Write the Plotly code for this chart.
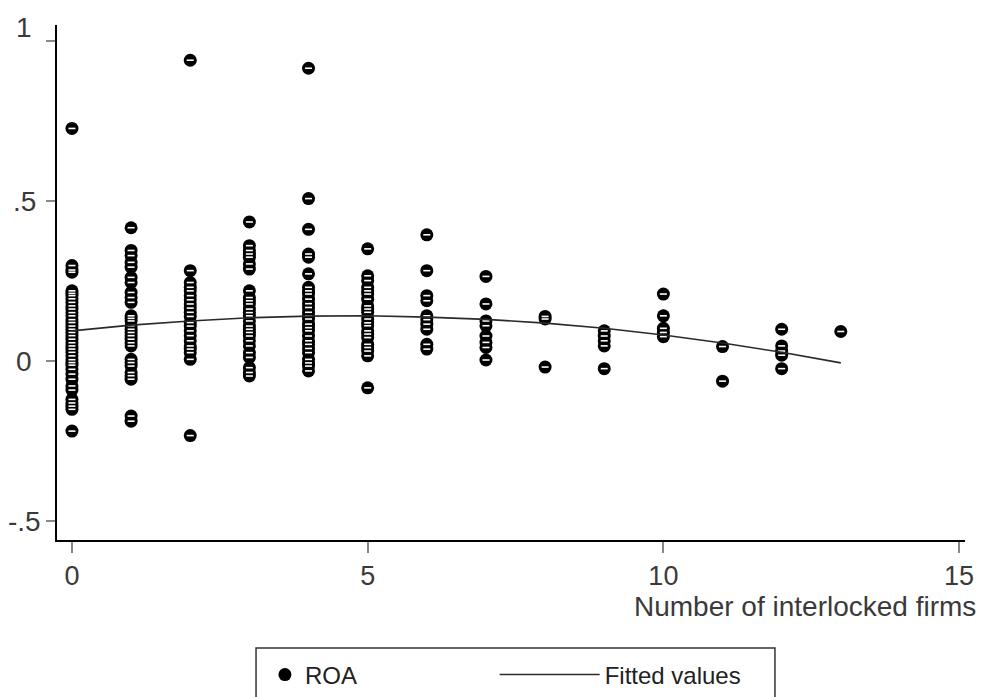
import plotly.graph_objects as go

roa_0 = [0.727, 0.299, 0.285, 0.278, 0.220, 0.212, 0.205, 0.195, 0.184, 0.173, 0.163, 0.152, 0.142,
         0.130, 0.121, 0.110, 0.100, 0.090, 0.080, 0.069, 0.058, 0.048, 0.038, 0.028, 0.017, 0.005,
         -0.004, -0.012, -0.025, -0.040, -0.056, -0.077, -0.090, -0.119, -0.130, -0.140, -0.150, -0.218]
roa_1 = [0.417, 0.346, 0.330, 0.309, 0.294, 0.262, 0.246, 0.215, 0.199, 0.184, 0.142, 0.134, 0.126,
         0.111, 0.100, 0.090, 0.080, 0.069, 0.058, 0.048, 0.006, -0.004, -0.015, -0.035, -0.045,
         -0.056, -0.171, -0.187]
roa_2 = [0.940, 0.283, 0.246, 0.231, 0.220, 0.205, 0.192, 0.179, 0.166, 0.153, 0.140, 0.121, 0.110,
         0.095, 0.080, 0.064, 0.048, 0.038, 0.027, 0.006, -0.232]
roa_3 = [0.435, 0.361, 0.346, 0.335, 0.325, 0.304, 0.288, 0.220, 0.199, 0.189, 0.179, 0.163, 0.152,
         0.142, 0.126, 0.110, 0.100, 0.090, 0.079, 0.064, 0.048, 0.027, 0.012, -0.020, -0.035, -0.046]
roa_4 = [0.915, 0.508, 0.412, 0.335, 0.325, 0.273, 0.231, 0.220, 0.210, 0.194, 0.180, 0.168, 0.153,
         0.142, 0.132, 0.116, 0.105, 0.095, 0.079, 0.064, 0.053, 0.040, 0.027, 0.006, -0.005,
         -0.015, -0.030]
roa_5 = [0.351, 0.267, 0.252, 0.231, 0.220, 0.210, 0.194, 0.173, 0.163, 0.153, 0.132, 0.120, 0.111,
         0.095, 0.085, 0.074, 0.053, 0.043, 0.032, 0.017, -0.083]
roa_6 = [0.395, 0.283, 0.205, 0.189, 0.142, 0.130, 0.116, 0.100, 0.053, 0.038]
roa_7 = [0.265, 0.179, 0.126, 0.111, 0.079, 0.059, 0.043, 0.004]
roa_8 = [0.140, 0.132, -0.018]
roa_9 = [0.095, 0.079, 0.064, 0.048, -0.023]
roa_10 = [0.210, 0.142, 0.103, 0.090, 0.077]
roa_11 = [0.046, -0.062]
roa_12 = [0.100, 0.048, 0.032, 0.019, -0.023]
roa_13 = [0.093]

roa_columns = [roa_0, roa_1, roa_2, roa_3, roa_4, roa_5, roa_6, roa_7,
               roa_8, roa_9, roa_10, roa_11, roa_12, roa_13]

# Fitted values (quadratic fit)
fit_x = [0, 1, 2, 3, 4, 5, 6, 7, 8, 9, 10, 11, 12, 13]
fit_y = [0.095, 0.113, 0.126, 0.136, 0.141, 0.142, 0.138, 0.131, 0.119, 0.103, 0.082, 0.057, 0.028, -0.005]

x_ticks = [0, 5, 10, 15]
x_tick_text = ["0", "5", "10", "15"]
y_ticks = [1, 0.5, 0, -0.5]
y_tick_text = ["1", ".5", "0", "-.5"]
x_title = "Number of interlocked firms"

xs, ys = [], []
for k, col in enumerate(roa_columns):
    xs += [k] * len(col)
    ys += col

FONT = "Liberation Sans, Arial, sans-serif"
TXT = "#3a3a3a"

fig = go.Figure()
fig.add_trace(go.Scatter(
    x=xs, y=ys, mode="markers", name="ROA", legend="legend",
    marker=dict(symbol="circle", size=13, color="black", line=dict(width=0)),
))
# white glint on each ball
fig.add_trace(go.Scatter(
    x=xs, y=ys, mode="markers", showlegend=False, hoverinfo="skip",
    marker=dict(symbol="line-ew", size=5, line=dict(color="white", width=1.6)),
))
fig.add_trace(go.Scatter(
    x=fit_x, y=fit_y, mode="lines", name="Fitted values", legend="legend2",
    line=dict(color="#2a2a2a", width=1.6),
))

annotations = []
label_shift = [14, 0, 0, 0]
for v, t, s in zip(y_ticks, y_tick_text, label_shift):
    annotations.append(dict(
        x=0, xref="paper", xshift=-33, xanchor="center",
        y=v, yref="y", yanchor="middle", yshift=s,
        text=t, showarrow=False, font=dict(family=FONT, size=28, color=TXT)))
annotations.append(dict(
    x=1, xref="paper", xanchor="right", xshift=13,
    y=0, yref="paper", yanchor="middle", yshift=-66,
    text=x_title, showarrow=False, font=dict(family=FONT, size=28, color=TXT)))

legend_font = dict(family=FONT, size=24, color="#222222")
# the page body has an 8px margin, so the figure is sized to end at the window edge
fig.update_layout(
    width=976, height=689,
    margin=dict(l=49, r=19, t=17, b=157, autoexpand=False),
    paper_bgcolor="white", plot_bgcolor="white",
    showlegend=True,
    legend=dict(
        x=0.229, xanchor="left", y=-0.262, yanchor="middle",
        bgcolor="rgba(0,0,0,0)", borderwidth=0, itemwidth=30,
        font=legend_font,
    ),
    legend2=dict(
        x=0.482, xanchor="left", y=-0.262, yanchor="middle",
        bgcolor="rgba(0,0,0,0)", borderwidth=0, itemwidth=100,
        font=legend_font,
    ),
    shapes=[dict(type="rect", xref="paper", yref="paper",
                 x0=0.2192, x1=0.7907, y0=-0.3204, y1=-0.2097,
                 line=dict(color="#333333", width=1.5), fillcolor="rgba(0,0,0,0)")],
    annotations=annotations,
    font=dict(family=FONT, color=TXT),
)
fig.update_xaxes(
    range=[-0.253, 15.1], showgrid=False, zeroline=False,
    showline=True, linecolor="black", linewidth=2,
    ticks="outside", ticklen=11, tickwidth=1.5, tickcolor="#888888",
    tickvals=x_ticks, ticktext=x_tick_text,
    tickfont=dict(family=FONT, size=27, color=TXT),
)
fig.update_yaxes(
    range=[-0.558, 1.05], showgrid=False, zeroline=False,
    showline=True, linecolor="black", linewidth=2,
    ticks="outside", ticklen=9, tickwidth=1.5, tickcolor="#888888",
    tickvals=y_ticks, showticklabels=False,
)

fig.write_html("out.html")
